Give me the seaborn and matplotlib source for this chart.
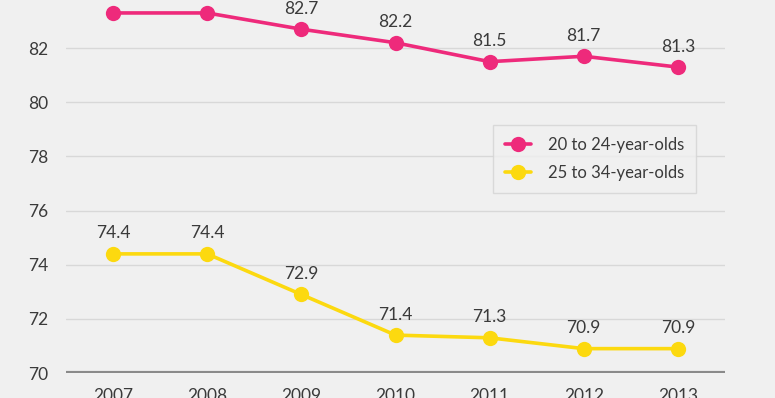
import pandas as pd
import numpy as np
import matplotlib.pyplot as plt
import seaborn as sns

years = ["2007", "2008", "2009", "2010", "2011", "2012", "2013"]
age_20_24 = [83.3, 83.3, 82.7, 82.2, 81.5, 81.7, 81.3]
age_25_34 = [74.4, 74.4, 72.9, 71.4, 71.3, 70.9, 70.9]
series_names = ["20 to 24-year-olds", "25 to 34-year-olds"]

df = pd.DataFrame({
    "year": years * 2,
    "value": age_20_24 + age_25_34,
    "group": [series_names[0]] * 7 + [series_names[1]] * 7,
})

bg = "#f0f0f0"
pink = "#ee2a7b"
yellow = "#fcd90f"
txt = "#3a3a3a"

sns.set_theme(style="white")
plt.rcParams["font.family"] = ["Lato", "DejaVu Sans"]

fig = plt.figure(figsize=(7.75, 3.98), dpi=100, facecolor=bg)
# axes run past the top edge, like the cropped original
ax = fig.add_axes([66 / 775, 25 / 398, 659 / 775, 379 / 398])
ax.set_facecolor(bg)

sns.lineplot(
    data=df, x="year", y="value", hue="group",
    palette=[pink, yellow], marker="o", markersize=11,
    markeredgewidth=0, linewidth=2.6, ax=ax, zorder=3,
)

# value labels above each point
for vals in (age_20_24, age_25_34):
    for i, v in enumerate(vals):
        ax.annotate(f"{v:.1f}", (i, v), xytext=(0, 9), textcoords="offset points",
                    ha="center", va="bottom", fontsize=12.5, color=txt)

ax.set_xlim(-0.5, 6.5)
ax.set_ylim(70, 84)
ax.set_yticks(np.arange(70, 85, 2))
for y in range(72, 85, 2):
    ax.axhline(y, color="#d8d8d8", linewidth=1, zorder=1)
ax.axhline(70, color="#8a8a8a", linewidth=3, zorder=2)

for s in ax.spines.values():
    s.set_visible(False)

ax.set_xticks(np.arange(0.5, 6, 1), minor=True)
ax.tick_params(axis="x", which="minor", length=4, width=1.2, color="#8a8a8a", direction="out")
ax.tick_params(axis="x", which="major", length=0, pad=11, labelsize=12.5, labelcolor=txt)
ax.tick_params(axis="y", length=0, pad=13, labelsize=12.5, labelcolor=txt)
ax.set_xlabel("")
ax.set_ylabel("")

leg = ax.legend(
    loc="upper left", bbox_to_anchor=((493 - 66) / 659, (373 - 125) / 379),
    borderaxespad=0, frameon=True, fancybox=False, facecolor=bg, edgecolor="#d4d4d4",
    fontsize=12, labelcolor=txt, handlelength=1.6, borderpad=0.7,
    labelspacing=0.75, handletextpad=1.0,
)
leg.get_frame().set_linewidth(1)

plt.savefig("out.png", dpi=100, facecolor=bg)
